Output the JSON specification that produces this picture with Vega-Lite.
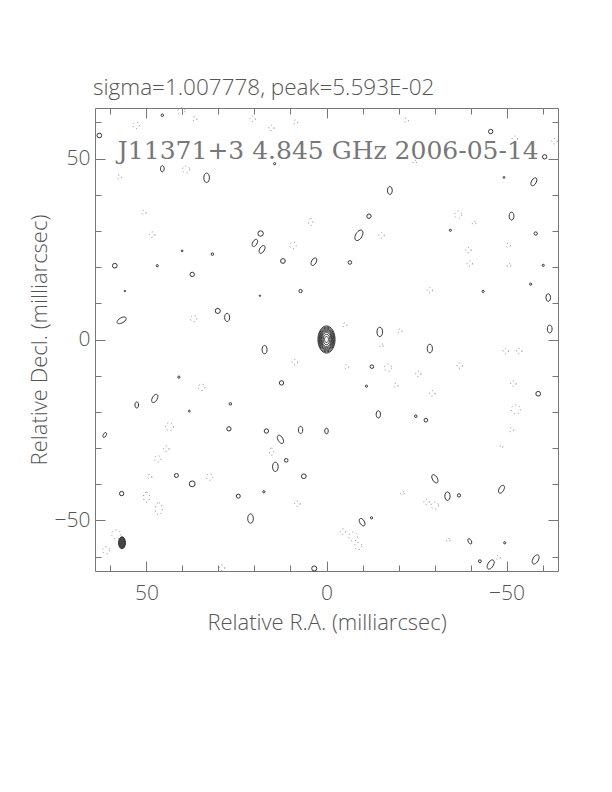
{
  "$schema": "https://vega.github.io/schema/vega-lite/v6.json",
  "width": 463,
  "height": 463,
  "autosize": {"type": "none"},
  "padding": {"left": 95, "top": 108, "right": 54, "bottom": 221},
  "background": "white",
  "title": {
    "text": "sigma=1.007778, peak=5.593E-02",
    "anchor": "start",
    "frame": "group",
    "dx": -2,
    "offset": 6,
    "font": "Open Sans",
    "fontSize": 22.5,
    "fontWeight": 300,
    "color": "#555555"
  },
  "config": {
    "view": {"stroke": "#777777", "strokeWidth": 1},
    "axis": {
      "domain": false,
      "grid": false,
      "tickColor": "#777777",
      "tickWidth": 1,
      "labelFont": "Open Sans",
      "labelFontSize": 21,
      "labelFontWeight": 300,
      "labelColor": "#555555",
      "titleFont": "Open Sans",
      "titleFontSize": 22,
      "titleFontWeight": 300,
      "titleColor": "#555555"
    }
  },
  "datasets": {
    "pos": [
      {"ra": 63.1, "dec": 56.4, "major": 1.3, "form": "round"},
      {"ra": 45.6, "dec": 47.2, "major": 1.7, "form": "oval"},
      {"ra": 33.3, "dec": 44.7, "major": 2.6, "form": "oval"},
      {"ra": 18.3, "dec": 29.3, "major": 1.5, "form": "round"},
      {"ra": 19.9, "dec": 26.7, "major": 2.2, "form": "tiltR"},
      {"ra": 17.9, "dec": 24.9, "major": 2.4, "form": "tiltR"},
      {"ra": 12.1, "dec": 21.7, "major": 1.3, "form": "round"},
      {"ra": 3.5, "dec": 21.5, "major": 2.3, "form": "tiltR"},
      {"ra": 58.8, "dec": 20.4, "major": 1.3, "form": "round"},
      {"ra": 37.3, "dec": 18.0, "major": 1.2, "form": "round"},
      {"ra": 7.2, "dec": 13.4, "major": 0.9, "form": "round"},
      {"ra": 56.9, "dec": 5.3, "major": 2.8, "form": "tiltR2"},
      {"ra": 30.2, "dec": 7.9, "major": 1.4, "form": "round"},
      {"ra": 27.6, "dec": 6.1, "major": 2.3, "form": "oval"},
      {"ra": 45.6, "dec": 62.0, "major": 0.7, "form": "round"},
      {"ra": 14.4, "dec": 48.6, "major": 0.6, "form": "round"},
      {"ra": 47.0, "dec": 20.4, "major": 0.6, "form": "round"},
      {"ra": 31.7, "dec": 23.6, "major": 0.7, "form": "round"},
      {"ra": 40.1, "dec": 24.5, "major": 0.5, "form": "round"},
      {"ra": 56.0, "dec": 13.4, "major": 0.4, "form": "round"},
      {"ra": 18.5, "dec": 12.1, "major": 0.4, "form": "round"},
      {"ra": -45.6, "dec": 57.5, "major": 1.2, "form": "round"},
      {"ra": -60.6, "dec": 50.5, "major": 1.2, "form": "round"},
      {"ra": -57.6, "dec": 43.6, "major": 2.4, "form": "tiltR"},
      {"ra": -17.6, "dec": 41.2, "major": 2.2, "form": "oval"},
      {"ra": -11.8, "dec": 34.1, "major": 1.2, "form": "round"},
      {"ra": -51.4, "dec": 34.1, "major": 2.2, "form": "oval"},
      {"ra": -9.0, "dec": 28.8, "major": 3.2, "form": "tiltR"},
      {"ra": -6.5, "dec": 21.3, "major": 1.0, "form": "round"},
      {"ra": -58.1, "dec": 29.3, "major": 0.9, "form": "round"},
      {"ra": -61.6, "dec": 11.6, "major": 2.1, "form": "oval"},
      {"ra": -62.0, "dec": 2.9, "major": 2.2, "form": "oval"},
      {"ra": -14.8, "dec": 2.1, "major": 2.6, "form": "oval"},
      {"ra": -34.4, "dec": 30.2, "major": 0.6, "form": "round"},
      {"ra": -49.3, "dec": 44.8, "major": 0.5, "form": "round"},
      {"ra": -60.2, "dec": 20.5, "major": 0.6, "form": "round"},
      {"ra": -56.7, "dec": 15.3, "major": 0.6, "form": "round"},
      {"ra": -43.5, "dec": 13.3, "major": 0.6, "form": "round"},
      {"ra": 17.2, "dec": -2.8, "major": 2.3, "form": "oval"},
      {"ra": 12.5, "dec": -12.0, "major": 1.2, "form": "round"},
      {"ra": 47.7, "dec": -16.3, "major": 2.5, "form": "tiltR"},
      {"ra": 52.7, "dec": -18.1, "major": 1.7, "form": "oval"},
      {"ra": 61.6, "dec": -26.4, "major": 1.5, "form": "tiltR"},
      {"ra": 27.1, "dec": -24.7, "major": 1.2, "form": "round"},
      {"ra": 16.7, "dec": -25.3, "major": 1.2, "form": "round"},
      {"ra": 12.8, "dec": -27.6, "major": 2.5, "form": "tiltL"},
      {"ra": 7.2, "dec": -25.0, "major": 2.0, "form": "oval"},
      {"ra": 0.0, "dec": -25.3, "major": 1.6, "form": "oval"},
      {"ra": 14.2, "dec": -35.2, "major": 2.6, "form": "oval"},
      {"ra": 11.2, "dec": -33.4, "major": 1.0, "form": "round"},
      {"ra": 41.7, "dec": -37.6, "major": 1.1, "form": "round"},
      {"ra": 37.3, "dec": -39.9, "major": 1.6, "form": "round"},
      {"ra": 6.3, "dec": -37.8, "major": 1.3, "form": "round"},
      {"ra": 56.9, "dec": -42.6, "major": 1.2, "form": "round"},
      {"ra": 24.5, "dec": -43.3, "major": 1.1, "form": "round"},
      {"ra": 21.1, "dec": -49.5, "major": 2.6, "form": "oval"},
      {"ra": 3.4, "dec": -63.3, "major": 1.4, "form": "round"},
      {"ra": 41.0, "dec": -10.4, "major": 0.6, "form": "round"},
      {"ra": 26.7, "dec": -17.8, "major": 0.7, "form": "round"},
      {"ra": 17.4, "dec": -42.1, "major": 0.6, "form": "round"},
      {"ra": 38.1, "dec": -19.8, "major": 0.5, "form": "round"},
      {"ra": -28.7, "dec": -2.5, "major": 2.4, "form": "oval"},
      {"ra": -12.6, "dec": -7.5, "major": 1.0, "form": "round"},
      {"ra": -58.8, "dec": -15.0, "major": 1.3, "form": "round"},
      {"ra": -14.4, "dec": -20.7, "major": 2.0, "form": "oval"},
      {"ra": -27.6, "dec": -22.3, "major": 1.0, "form": "round"},
      {"ra": -30.1, "dec": -38.5, "major": 2.5, "form": "tiltL"},
      {"ra": -33.6, "dec": -43.3, "major": 2.4, "form": "oval"},
      {"ra": -36.8, "dec": -43.1, "major": 0.9, "form": "round"},
      {"ra": -48.6, "dec": -41.4, "major": 2.4, "form": "tiltR"},
      {"ra": -9.9, "dec": -50.5, "major": 2.3, "form": "tiltL"},
      {"ra": -39.8, "dec": -55.8, "major": 1.6, "form": "tiltL"},
      {"ra": -45.6, "dec": -62.2, "major": 2.8, "form": "tiltR"},
      {"ra": -58.1, "dec": -60.8, "major": 2.8, "form": "tiltR"},
      {"ra": -42.6, "dec": -61.3, "major": 0.8, "form": "round"},
      {"ra": -24.8, "dec": -21.2, "major": 0.7, "form": "round"},
      {"ra": -11.1, "dec": -12.9, "major": 0.6, "form": "round"},
      {"ra": -12.5, "dec": -49.3, "major": 0.6, "form": "round"},
      {"ra": -49.5, "dec": -56.2, "major": 0.6, "form": "round"}
    ],
    "neg": [
      {"ra": 40.3, "dec": 63.1, "major": 2.0, "form": "round"},
      {"ra": 52.9, "dec": 59.2, "major": 1.8, "form": "round"},
      {"ra": 36.6, "dec": 61.0, "major": 1.2, "form": "round"},
      {"ra": 20.5, "dec": 61.0, "major": 1.5, "form": "round"},
      {"ra": 15.3, "dec": 58.5, "major": 1.5, "form": "round"},
      {"ra": 8.6, "dec": 60.1, "major": 1.2, "form": "round"},
      {"ra": 39.0, "dec": 47.0, "major": 2.0, "form": "round"},
      {"ra": 57.5, "dec": 44.9, "major": 1.2, "form": "round"},
      {"ra": 50.7, "dec": 35.1, "major": 1.2, "form": "round"},
      {"ra": 48.4, "dec": 29.0, "major": 1.5, "form": "round"},
      {"ra": 9.3, "dec": 26.0, "major": 1.8, "form": "round"},
      {"ra": 4.4, "dec": 32.5, "major": 2.0, "form": "oval"},
      {"ra": 36.9, "dec": 5.8, "major": 1.8, "form": "round"},
      {"ra": -36.6, "dec": 34.5, "major": 2.0, "form": "round"},
      {"ra": -39.4, "dec": 24.7, "major": 1.5, "form": "round"},
      {"ra": -39.8, "dec": 21.0, "major": 1.5, "form": "round"},
      {"ra": -15.3, "dec": 28.8, "major": 1.5, "form": "round"},
      {"ra": -28.7, "dec": 13.6, "major": 1.5, "form": "round"},
      {"ra": -22.2, "dec": 60.6, "major": 1.2, "form": "round"},
      {"ra": -52.3, "dec": 55.5, "major": 1.5, "form": "round"},
      {"ra": -63.3, "dec": 54.8, "major": 1.5, "form": "round"},
      {"ra": -50.5, "dec": 26.0, "major": 1.2, "form": "round"},
      {"ra": -20.4, "dec": 2.3, "major": 1.2, "form": "round"},
      {"ra": -5.1, "dec": 4.0, "major": 1.2, "form": "round"},
      {"ra": -41.0, "dec": 32.2, "major": 1.0, "form": "round"},
      {"ra": -50.7, "dec": 20.5, "major": 1.0, "form": "round"},
      {"ra": -24.5, "dec": 49.1, "major": 1.0, "form": "round"},
      {"ra": 34.7, "dec": -13.2, "major": 1.8, "form": "round"},
      {"ra": 43.6, "dec": -24.1, "major": 2.2, "form": "round"},
      {"ra": 44.5, "dec": -30.2, "major": 1.5, "form": "round"},
      {"ra": 46.9, "dec": -33.0, "major": 1.8, "form": "round"},
      {"ra": 49.1, "dec": -37.9, "major": 1.2, "form": "round"},
      {"ra": 32.5, "dec": -38.0, "major": 1.8, "form": "round"},
      {"ra": 50.0, "dec": -43.6, "major": 2.8, "form": "oval"},
      {"ra": 46.6, "dec": -46.8, "major": 3.3, "form": "oval"},
      {"ra": 8.8, "dec": -6.3, "major": 1.5, "form": "round"},
      {"ra": 15.3, "dec": -31.0, "major": 2.0, "form": "oval"},
      {"ra": 8.1, "dec": -45.4, "major": 1.5, "form": "round"},
      {"ra": 58.4, "dec": -53.9, "major": 2.5, "form": "round"},
      {"ra": 61.2, "dec": -58.3, "major": 2.0, "form": "round"},
      {"ra": 29.0, "dec": -63.1, "major": 1.5, "form": "round"},
      {"ra": -15.3, "dec": -1.7, "major": 1.0, "form": "round"},
      {"ra": -49.8, "dec": -3.2, "major": 1.5, "form": "round"},
      {"ra": -53.5, "dec": -3.2, "major": 1.5, "form": "round"},
      {"ra": -17.1, "dec": -7.8, "major": 2.0, "form": "round"},
      {"ra": -5.6, "dec": -7.5, "major": 1.2, "form": "round"},
      {"ra": -37.0, "dec": -7.2, "major": 1.5, "form": "round"},
      {"ra": -25.5, "dec": -9.5, "major": 1.5, "form": "round"},
      {"ra": -19.3, "dec": -12.7, "major": 1.2, "form": "round"},
      {"ra": -29.4, "dec": -14.9, "major": 1.5, "form": "round"},
      {"ra": -51.9, "dec": -12.2, "major": 1.5, "form": "round"},
      {"ra": -52.6, "dec": -19.3, "major": 2.5, "form": "round"},
      {"ra": -51.4, "dec": -25.0, "major": 1.2, "form": "round"},
      {"ra": -48.6, "dec": -29.6, "major": 0.8, "form": "round"},
      {"ra": -27.8, "dec": -44.9, "major": 1.5, "form": "round"},
      {"ra": -30.1, "dec": -45.9, "major": 2.0, "form": "round"},
      {"ra": -21.1, "dec": -42.5, "major": 1.0, "form": "round"},
      {"ra": -7.4, "dec": -54.5, "major": 2.5, "form": "round"},
      {"ra": -4.6, "dec": -53.1, "major": 1.5, "form": "round"},
      {"ra": -8.8, "dec": -57.1, "major": 2.0, "form": "round"},
      {"ra": -33.8, "dec": -55.5, "major": 1.0, "form": "round"},
      {"ra": -47.7, "dec": -60.3, "major": 1.2, "form": "round"}
    ],
    "core": [
      {"ra": 0, "dec": 0, "major": 7.5, "form": "core"},
      {"ra": 0, "dec": 0, "major": 6.9, "form": "core"},
      {"ra": 0, "dec": 0, "major": 6.3, "form": "core"},
      {"ra": 0, "dec": 0, "major": 5.7, "form": "core"},
      {"ra": 0, "dec": 0, "major": 5.1, "form": "core"},
      {"ra": 0, "dec": 0, "major": 4.5, "form": "core"},
      {"ra": 0, "dec": 0, "major": 3.9, "form": "core"},
      {"ra": 0, "dec": 0, "major": 2.9, "form": "core"},
      {"ra": 0, "dec": 0, "major": 1.7, "form": "core"}
    ],
    "beam": [
      {"ra": 56.8, "dec": -56.2, "major": 3.3, "form": "beam"}
    ],
    "label": [
      {"ra": -0.5, "dec": 50, "text": "J11371+3 4.845 GHz 2006-05-14"}
    ]
  },
  "layer": [
    {
      "data": {"name": "pos"},
      "mark": {"type": "point", "filled": false, "stroke": "#333333", "strokeWidth": 1, "opacity": 1},
      "encoding": {
        "x": {"field": "ra", "type": "quantitative", "scale": {"domain": [64.3, -64.3], "nice": false, "zero": false},
          "axis": {"orient": "bottom", "values": [50, 0, -50], "tickSize": -10, "labelPadding": 21, "title": "Relative R.A. (milliarcsec)", "titleY": 41}},
        "y": {"field": "dec", "type": "quantitative", "scale": {"domain": [-64, 64], "nice": false, "zero": false},
          "axis": {"orient": "left", "values": [-50, 0, 50], "tickSize": -10, "labelPadding": 15, "title": "Relative Decl. (milliarcsec)", "titleX": -44}},
        "size": {"field": "major", "type": "quantitative", "scale": {"type": "pow", "exponent": 2, "domain": [0, 10], "range": [0, 1310]}, "legend": null},
        "shape": {"field": "form", "type": "nominal", "legend": null,
          "scale": {"domain": ["round", "oval", "tiltR", "tiltR2", "tiltL", "core", "beam"],
            "range": [
              "circle",
              "M0,-1A0.6,1,0,1,1,0,1A0.6,1,0,1,1,0,-1Z",
              "M0.5,-0.866A0.55,1,30,1,1,-0.5,0.866A0.55,1,30,1,1,0.5,-0.866Z",
              "M0.866,-0.5A0.5,1,60,1,1,-0.866,0.5A0.5,1,60,1,1,0.866,-0.5Z",
              "M-0.5,-0.866A0.55,1,-30,1,1,0.5,0.866A0.55,1,-30,1,1,-0.5,-0.866Z",
              "M0,-1A0.63,1,0,1,1,0,1A0.63,1,0,1,1,0,-1Z",
              "M0,-1A0.58,1,0,1,1,0,1A0.58,1,0,1,1,0,-1Z"
            ]}}
      }
    },
    {
      "data": {"name": "neg"},
      "mark": {"type": "point", "filled": false, "stroke": "#888888", "strokeWidth": 1, "strokeDash": [1, 3], "opacity": 1},
      "encoding": {
        "x": {"field": "ra", "type": "quantitative",
          "axis": {"orient": "top", "values": [50, 0, -50], "tickSize": -10, "labels": false, "title": null}},
        "y": {"field": "dec", "type": "quantitative",
          "axis": {"orient": "right", "values": [-50, 0, 50], "tickSize": -10, "labels": false, "title": null}},
        "size": {"field": "major", "type": "quantitative", "legend": null},
        "shape": {"field": "form", "type": "nominal", "legend": null}
      }
    },
    {
      "data": {"name": "core"},
      "mark": {"type": "point", "filled": false, "stroke": "#333333", "strokeWidth": 1, "opacity": 1},
      "encoding": {
        "x": {"field": "ra", "type": "quantitative",
          "axis": {"orient": "bottom", "values": [60, 40, 30, 20, 10, -10, -20, -30, -40, -60], "tickSize": -6, "labels": false, "title": null}},
        "y": {"field": "dec", "type": "quantitative",
          "axis": {"orient": "left", "values": [-60, -40, -30, -20, -10, 10, 20, 30, 40, 60], "tickSize": -6, "labels": false, "title": null}},
        "size": {"field": "major", "type": "quantitative", "legend": null},
        "shape": {"field": "form", "type": "nominal", "legend": null}
      }
    },
    {
      "data": {"name": "beam"},
      "mark": {"type": "point", "filled": true, "fill": "#444444", "stroke": "#333333", "strokeWidth": 1, "opacity": 1},
      "encoding": {
        "x": {"field": "ra", "type": "quantitative",
          "axis": {"orient": "top", "values": [60, 40, 30, 20, 10, -10, -20, -30, -40, -60], "tickSize": -6, "labels": false, "title": null}},
        "y": {"field": "dec", "type": "quantitative",
          "axis": {"orient": "right", "values": [-60, -40, -30, -20, -10, 10, 20, 30, 40, 60], "tickSize": -6, "labels": false, "title": null}},
        "size": {"field": "major", "type": "quantitative", "legend": null},
        "shape": {"field": "form", "type": "nominal", "legend": null}
      }
    },
    {
      "data": {"name": "label"},
      "mark": {"type": "text", "font": "DejaVu Serif", "fontSize": 25, "color": "#777777", "align": "center", "baseline": "alphabetic"},
      "encoding": {
        "x": {"field": "ra", "type": "quantitative", "axis": null},
        "y": {"field": "dec", "type": "quantitative", "axis": null},
        "text": {"field": "text"}
      }
    }
  ],
  "resolve": {"axis": {"x": "independent", "y": "independent"}}
}
